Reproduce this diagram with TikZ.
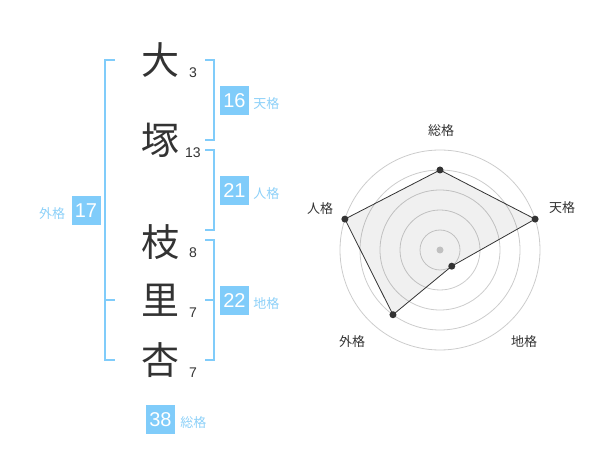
\documentclass[tikz,border=0pt]{standalone}
\usepackage{fontspec}
\setmainfont{Liberation Sans}
\newfontfamily\jpfont{Noto Sans CJK JP}
\definecolor{myblue}{RGB}{128,204,250}
\definecolor{mylabel}{RGB}{140,208,248}
\definecolor{mydark}{RGB}{51,51,51}
\usetikzlibrary{positioning}

\begin{document}
\begin{tikzpicture}[x=1pt,y=-1pt,
  kanji/.style={font=\jpfont\fontsize{38}{38}\selectfont,text=mydark,inner sep=0pt},
  strokes/.style={font=\fontsize{14}{14}\selectfont,text=mydark,inner sep=0pt},
  score/.style={fill=myblue,text=white,minimum size=29pt,inner sep=0pt,font=\fontsize{20}{20}\selectfont},
  kaku/.style={font=\jpfont\fontsize{13}{13}\selectfont,text=mylabel,inner sep=0pt},
  bracket/.style={draw=myblue,line width=2pt},
  axislabel/.style={font=\jpfont\fontsize{13}{13}\selectfont,text=mydark,inner sep=0pt},
  ring/.style={draw=black!20,line width=0.8pt},
  dot/.style={circle,fill=mydark,inner sep=0pt,minimum size=7pt}
]
\useasboundingbox (0,0) rectangle (600,470);

% Name
\node[kanji] (k1) at (160,60) {大};
\node[kanji] (k2) at (160,140) {塚};
\node[kanji] (k3) at (160,242) {枝};
\node[kanji] (k4) at (160,300) {里};
\node[kanji] (k5) at (160,360) {杏};

% Strokes
\node[strokes] (n1) at (193,73) {3};
\node[strokes] (n2) at (193,153) {13};
\node[strokes] (n3) at (193,253) {8};
\node[strokes] (n4) at (193,313) {7};
\node[strokes] (n5) at (193,373) {7};

% Brackets
\draw[bracket] (115,60) -- (105,60) -- (105,360) -- (115,360);
\draw[bracket] (105,300) -- (115,300);
\draw[bracket] (205,60) -- (214,60) -- (214,140) -- (205,140);
\draw[bracket] (205,150) -- (214,150) -- (214,230) -- (205,230);
\draw[bracket] (205,240) -- (214,240) -- (214,360) -- (205,360);
\draw[bracket] (205,300) -- (214,300);

% Scores
\node[score] (ten) at (234.5,100.5) {16};
\node[kaku,right=4pt of ten,yshift=-3.5pt] (tenl) {天格};
\node[score] (jin) at (234.5,190.5) {21};
\node[kaku,right=4pt of jin,yshift=-3.5pt] (jinl) {人格};
\node[score] (chi) at (234.5,300.5) {22};
\node[kaku,right=4pt of chi,yshift=-3.5pt] (chil) {地格};
\node[score] (gai) at (86,210.5) {17};
\node[kaku,left=6pt of gai,yshift=-3.5pt] (gail) {外格};
\node[score] (so) at (160.5,419.5) {38};
\node[kaku,right=5pt of so,yshift=-3.5pt] (sol) {総格};

% Radar
\begin{scope}[shift={(440,250)}]
\foreach \r in {20,40,...,100}
  \draw[ring] (0,0) circle (\r pt);
\node[circle,fill=black!20,inner sep=0pt,minimum size=7pt] (c) at (0,0) {};
\coordinate (p1) at (90:80pt);
\coordinate (p2) at (18:100pt);
\coordinate (p3) at (-54:20pt);
\coordinate (p4) at (234:80pt);
\coordinate (p5) at (162:100pt);
\fill[black,fill opacity=0.06] (p1) -- (p2) -- (p3) -- (p4) -- (p5) -- cycle;
\draw[mydark,line width=0.8pt] (p1) -- (p2) -- (p3) -- (p4) -- (p5) -- cycle;
\foreach \i in {1,...,5}
  \node[dot] (d\i) at (p\i) {};
\end{scope}
\node[axislabel] (a1) at (441,131) {総格};
\node[axislabel] (a2) at (562,208) {天格};
\node[axislabel] (a3) at (524,342) {地格};
\node[axislabel] (a4) at (352,342) {外格};
\node[axislabel] (a5) at (320,209) {人格};
\end{tikzpicture}
\end{document}
